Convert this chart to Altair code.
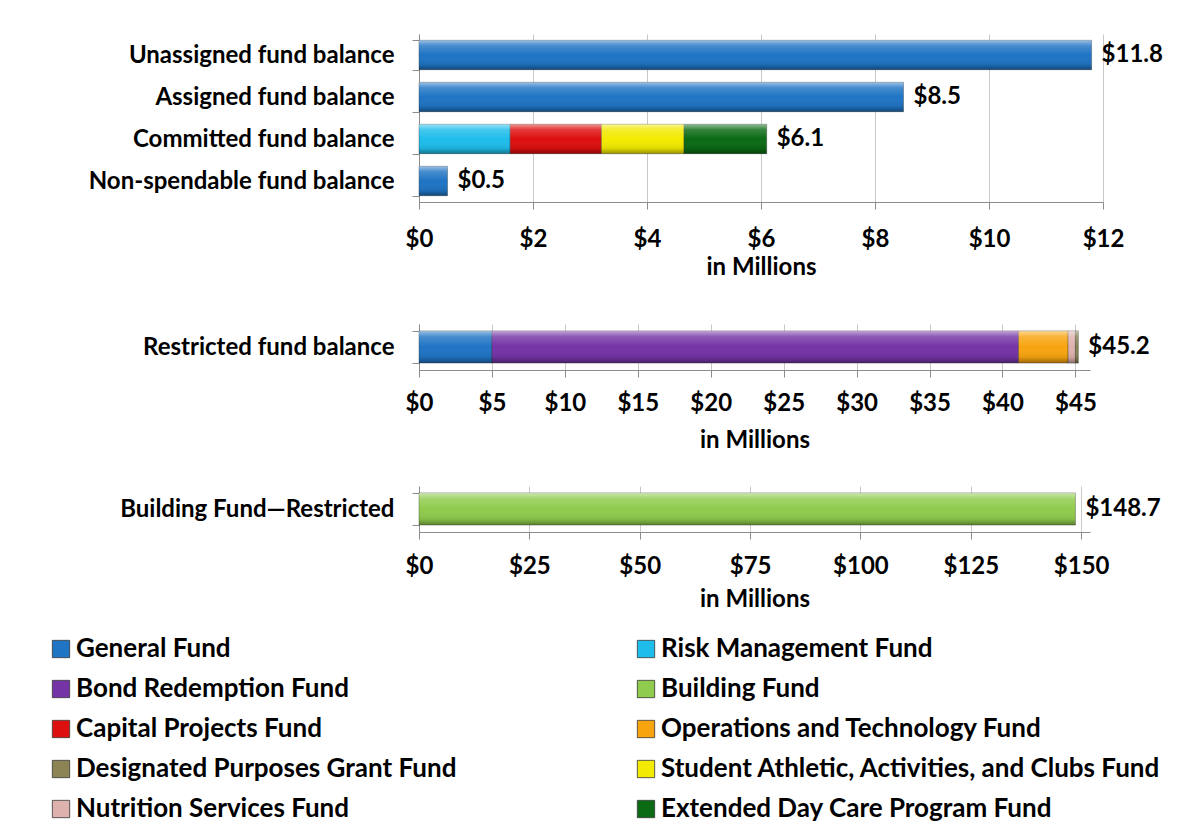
import altair as alt
import pandas as pd

FONT = "Lato"

# ---- legend / colour definitions (legend order, row-major in 2 columns)
funds = [
    "General Fund", "Risk Management Fund",
    "Bond Redemption Fund", "Building Fund",
    "Capital Projects Fund", "Operations and Technology Fund",
    "Designated Purposes Grant Fund", "Student Athletic, Activities, and Clubs Fund",
    "Nutrition Services Fund", "Extended Day Care Program Fund",
]
fund_colors = [
    "#1F74C4", "#1EBDEB",
    "#7434A6", "#8FCB4C",
    "#DE0F0F", "#F8A40F",
    "#8C8454", "#F2EA00",
    "#DDB2AE", "#0B6A14",
]

# ---- top panel (in millions)
top_categories = ["Unassigned fund balance", "Assigned fund balance",
                  "Committed fund balance", "Non-spendable fund balance"]
top_seg_category = ["Unassigned fund balance", "Assigned fund balance",
                    "Committed fund balance", "Committed fund balance",
                    "Committed fund balance", "Committed fund balance",
                    "Non-spendable fund balance"]
top_seg_fund = ["General Fund", "General Fund",
                "Risk Management Fund", "Capital Projects Fund",
                "Student Athletic, Activities, and Clubs Fund", "Extended Day Care Program Fund",
                "General Fund"]
top_seg_value = [11.8, 8.5, 1.6, 1.6, 1.45, 1.45, 0.5]
top_totals = [11.8, 8.5, 6.1, 0.5]
top_ticks = [0, 2, 4, 6, 8, 10, 12]

# ---- middle panel
mid_categories = ["Restricted fund balance"]
mid_seg_category = ["Restricted fund balance"] * 5
mid_seg_fund = ["General Fund", "Bond Redemption Fund", "Operations and Technology Fund",
                "Nutrition Services Fund", "Designated Purposes Grant Fund"]
mid_seg_value = [5.0, 36.1, 3.4, 0.5, 0.2]
mid_totals = [45.2]
mid_ticks = [0, 5, 10, 15, 20, 25, 30, 35, 40, 45]

# ---- bottom panel
bot_categories = ["Building Fund\u2014Restricted"]
bot_seg_category = ["Building Fund\u2014Restricted"]
bot_seg_fund = ["Building Fund"]
bot_seg_value = [148.7]
bot_totals = [148.7]
bot_ticks = [0, 25, 50, 75, 100, 125, 150]

shine = alt.Gradient(
    gradient="linear", x1=0, y1=0, x2=0, y2=1,
    stops=[
        alt.GradientStop(offset=0, color="rgba(255,255,255,0.55)"),
        alt.GradientStop(offset=0.18, color="rgba(255,255,255,0.18)"),
        alt.GradientStop(offset=0.5, color="rgba(255,255,255,0.0)"),
        alt.GradientStop(offset=0.82, color="rgba(0,0,0,0.08)"),
        alt.GradientStop(offset=1, color="rgba(0,0,0,0.38)"),
    ],
)

legend = alt.Legend(
    orient="none", legendX=-371, legendY=602, columns=2, direction="horizontal",
    symbolType="square", symbolSize=300, symbolStrokeColor="#333333",
    symbolStrokeWidth=0.8, labelFont=FONT, labelFontSize=26, labelFontWeight="bold",
    labelColor="black", labelLimit=700, rowPadding=14, columnPadding=176,
    gridAlign="each", labelOffset=2, values=funds,
)


def panel(cats, seg_cat, seg_fund, seg_val, totals, dmax, ticks, width, height, lpad, tpad):
    seg = pd.DataFrame({"category": seg_cat, "fund": seg_fund, "value": seg_val,
                        "seq": list(range(len(seg_val)))})
    tot = pd.DataFrame({"category": cats, "total": totals})
    yenc = alt.Y("category:N", sort=cats,
                 scale=alt.Scale(paddingInner=0.3, paddingOuter=0.15),
                 axis=alt.Axis(title=None, domainColor="#8c8c8c", tickColor="#8c8c8c",
                               tickSize=7, tickBand="extent", labelFont=FONT,
                               labelFontSize=24, labelFontWeight="bold", labelColor="black",
                               labelPadding=18, labelLimit=400, minExtent=405, maxExtent=405))
    xscale = alt.Scale(domain=[0, dmax], nice=False, zero=True)
    xaxis = alt.Axis(values=ticks, labelExpr="'$' + datum.value", title="in Millions",
                     domainColor="#8c8c8c", tickColor="#8c8c8c", tickSize=7,
                     grid=True, gridColor="#c8c8c8", labelFont=FONT, labelFontSize=24,
                     labelFontWeight="bold", labelColor="black", labelPadding=lpad,
                     labelFlush=False, titleFont=FONT, titleFontSize=24,
                     titleFontWeight="bold", titleColor="black", titlePadding=tpad)
    bars = alt.Chart(seg).mark_bar(stroke="#2a2a2a", strokeOpacity=0.35, strokeWidth=1).encode(
        x=alt.X("value:Q", stack="zero", scale=xscale, axis=xaxis),
        y=yenc,
        color=alt.Color("fund:N", title=None,
                        scale=alt.Scale(domain=funds, range=fund_colors), legend=legend),
        order=alt.Order("seq:Q"),
    )
    gloss = alt.Chart(seg).mark_bar(fill=shine).encode(
        x=alt.X("value:Q", stack="zero"),
        y=alt.Y("category:N", sort=cats),
        detail="fund:N",
        order=alt.Order("seq:Q"),
    )
    labels = alt.Chart(tot).mark_text(align="left", baseline="middle", dx=10, font=FONT,
                                      fontSize=24, fontWeight="bold", color="black").encode(
        x=alt.X("total:Q"),
        y=alt.Y("category:N", sort=cats),
        text=alt.Text("total:Q", format="$.1f"),
    )
    return alt.layer(bars, gloss, labels).properties(width=width, height=height)


top = panel(top_categories, top_seg_category, top_seg_fund, top_seg_value, top_totals,
            12, top_ticks, 684, 168, 18, 4)
mid = panel(mid_categories, mid_seg_category, mid_seg_fund, mid_seg_value, mid_totals,
            46, mid_ticks, 671, 46, 14, 13)
bot = panel(bot_categories, bot_seg_category, bot_seg_fund, bot_seg_value, bot_totals,
            152, bot_ticks, 671, 46, 15, 9)

chart = alt.vconcat(alt.vconcat(top, mid, spacing=31), bot, spacing=20).properties(
    padding={"left": 5, "top": 13, "right": 5, "bottom": 5}
).resolve_scale(x="independent", y="independent").configure_view(stroke="transparent")

chart.save("out.html", embed_options={"renderer": "svg", "actions": False})
